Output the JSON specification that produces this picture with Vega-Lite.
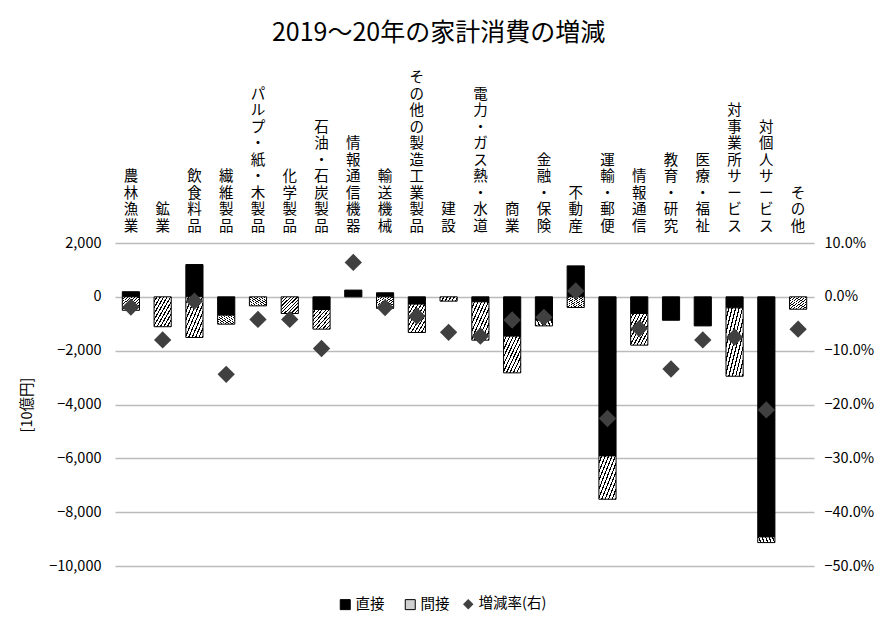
{
  "$schema": "https://vega.github.io/schema/vega-lite/v6.json",
  "width": 699,
  "height": 323,
  "padding": {"left": 19, "right": 5, "top": 20, "bottom": 5},
  "background": "white",
  "config": {
    "font": "Noto Sans CJK JP",
    "view": {"stroke": null}
  },
  "title": {
    "text": "2019～20年の家計消費の増減",
    "fontSize": 25,
    "fontWeight": "normal",
    "color": "black",
    "offset": 24,
    "dx": -26
  },
  "data": {
    "values": [
      {"cat": "農林漁業", "直接": 190, "間接": -500, "増減率(右)": -0.019},
      {"cat": "鉱業", "直接": 0, "間接": -1110, "増減率(右)": -0.080},
      {"cat": "飲食料品", "直接": 1200, "間接": -1510, "増減率(右)": -0.008},
      {"cat": "繊維製品", "直接": -680, "間接": -335, "増減率(右)": -0.144},
      {"cat": "パルプ・紙・木製品", "直接": 0, "間接": -335, "増減率(右)": -0.042},
      {"cat": "化学製品", "直接": 0, "間接": -620, "増減率(右)": -0.042},
      {"cat": "石油・石炭製品", "直接": -470, "間接": -730, "増減率(右)": -0.096},
      {"cat": "情報通信機器", "直接": 250, "間接": 0, "増減率(右)": 0.064},
      {"cat": "輸送機械", "直接": 150, "間接": -430, "増減率(右)": -0.020},
      {"cat": "その他の製造工業製品", "直接": -270, "間接": -1055, "増減率(右)": -0.036},
      {"cat": "建設", "直接": 0, "間接": -160, "増減率(右)": -0.066},
      {"cat": "電力・ガス熱・水道", "直接": -185, "間接": -1425, "増減率(右)": -0.073},
      {"cat": "商業", "直接": -1460, "間接": -1365, "増減率(右)": -0.043},
      {"cat": "金融・保険", "直接": -870, "間接": -210, "増減率(右)": -0.038},
      {"cat": "不動産", "直接": 1150, "間接": -395, "増減率(右)": 0.011},
      {"cat": "運輸・郵便", "直接": -5910, "間接": -1610, "増減率(右)": -0.226},
      {"cat": "情報通信", "直接": -620, "間接": -1175, "増減率(右)": -0.059},
      {"cat": "教育・研究", "直接": -870, "間接": 0, "増減率(右)": -0.134},
      {"cat": "医療・福祉", "直接": -1080, "間接": 0, "増減率(右)": -0.080},
      {"cat": "対事業所サービス", "直接": -410, "間接": -2540, "増減率(右)": -0.075},
      {"cat": "対個人サービス", "直接": -8920, "間接": -210, "増減率(右)": -0.210},
      {"cat": "その他", "直接": 0, "間接": -460, "増減率(右)": -0.060}
    ]
  },
  "encoding": {
    "x": {
      "field": "cat",
      "type": "nominal",
      "sort": null,
      "scale": {"paddingInner": 0.46, "paddingOuter": 0.23},
      "axis": {
        "orient": "top",
        "title": null,
        "labelAngle": 0,
        "labelExpr": "split(datum.label, '')",
        "labelFontSize": 14.5,
        "labelLineHeight": 16.5,
        "labelColor": "black",
        "labelPadding": {"expr": "10 + (length(datum.label) - 1) * 16.5"},
        "labelOverlap": false,
        "labelLimit": 0,
        "ticks": false,
        "domain": false,
        "grid": false
      }
    }
  },
  "layer": [
    {
      "mark": {"type": "bar", "stroke": "black", "strokeWidth": 1},
      "transform": [
        {"fold": ["直接", "間接"], "as": ["key", "value"]},
        {"filter": "datum.value != 0"}
      ],
      "encoding": {
        "y": {
          "field": "value",
          "type": "quantitative",
          "stack": "zero",
          "scale": {"domain": [-10000, 2000], "nice": false, "zero": false},
          "axis": {
            "title": "[10億円]",
            "titleFontSize": 14.5,
            "titleFontWeight": "normal",
            "titleColor": "black",
            "titlePadding": 14,
            "values": [-10000, -8000, -6000, -4000, -2000, 0, 2000],
            "format": ",.0f",
            "labelFontSize": 14.5,
            "labelColor": "black",
            "labelPadding": 14,
            "ticks": false,
            "domain": false,
            "grid": true,
            "gridColor": "#bbbbbb",
            "gridWidth": 1.5
          }
        },
        "color": {
          "field": "key",
          "type": "nominal",
          "condition": {
            "test": "datum.key === '間接'",
            "value": {
              "gradient": "linear", "x1": 0, "y1": 0, "x2": 1, "y2": 1,
              "stops": [
                {"offset": 0, "color": "white"},
                {"offset": 0.065, "color": "white"}, {"offset": 0.065, "color": "black"}, {"offset": 0.1, "color": "black"}, {"offset": 0.1, "color": "white"},
                {"offset": 0.165, "color": "white"}, {"offset": 0.165, "color": "black"}, {"offset": 0.2, "color": "black"}, {"offset": 0.2, "color": "white"},
                {"offset": 0.265, "color": "white"}, {"offset": 0.265, "color": "black"}, {"offset": 0.3, "color": "black"}, {"offset": 0.3, "color": "white"},
                {"offset": 0.365, "color": "white"}, {"offset": 0.365, "color": "black"}, {"offset": 0.4, "color": "black"}, {"offset": 0.4, "color": "white"},
                {"offset": 0.465, "color": "white"}, {"offset": 0.465, "color": "black"}, {"offset": 0.5, "color": "black"}, {"offset": 0.5, "color": "white"},
                {"offset": 0.565, "color": "white"}, {"offset": 0.565, "color": "black"}, {"offset": 0.6, "color": "black"}, {"offset": 0.6, "color": "white"},
                {"offset": 0.665, "color": "white"}, {"offset": 0.665, "color": "black"}, {"offset": 0.7, "color": "black"}, {"offset": 0.7, "color": "white"},
                {"offset": 0.765, "color": "white"}, {"offset": 0.765, "color": "black"}, {"offset": 0.8, "color": "black"}, {"offset": 0.8, "color": "white"},
                {"offset": 0.865, "color": "white"}, {"offset": 0.865, "color": "black"}, {"offset": 0.9, "color": "black"}, {"offset": 0.9, "color": "white"},
                {"offset": 0.965, "color": "white"}, {"offset": 0.965, "color": "black"}, {"offset": 1, "color": "black"}
              ]
            }
          },
          "scale": {"domain": ["直接", "間接"], "range": ["black", "#d0d0d0"]},
          "legend": {
            "title": null,
            "orient": "none",
            "legendX": 223,
            "legendY": 354,
            "direction": "horizontal",
            "labelFontSize": 14.5,
            "labelColor": "black",
            "labelOffset": 3,
            "columnPadding": 18,
            "symbolSize": 100,
            "symbolType": "square",
            "symbolOpacity": 1,
            "symbolStrokeColor": "black",
            "symbolStrokeWidth": 1
          }
        },
        "order": {"field": "key", "sort": "ascending"}
      }
    },
    {
      "mark": {"type": "point", "filled": true, "size": 300, "opacity": 1, "color": "#404040"},
      "transform": [
        {"fold": ["増減率(右)"], "as": ["key", "rate"]}
      ],
      "encoding": {
        "y": {
          "field": "rate",
          "type": "quantitative",
          "scale": {"domain": [-0.5, 0.1], "nice": false, "zero": false},
          "axis": {
            "orient": "right",
            "title": null,
            "values": [-0.5, -0.4, -0.3, -0.2, -0.1, 0, 0.1],
            "format": ".1%",
            "labelFontSize": 14.5,
            "labelColor": "black",
            "labelPadding": 10,
            "ticks": false,
            "domain": false,
            "grid": false
          }
        },
        "shape": {
          "field": "key",
          "type": "nominal",
          "scale": {"domain": ["増減率(右)"], "range": ["diamond"]},
          "legend": {
            "title": null,
            "orient": "none",
            "legendX": 346,
            "legendY": 354,
            "direction": "horizontal",
            "labelFontSize": 14.5,
            "labelColor": "black",
            "labelOffset": 3,
            "symbolSize": 110,
            "symbolOpacity": 1,
            "symbolFillColor": "#333333",
            "symbolStrokeWidth": 0
          }
        }
      }
    }
  ],
  "resolve": {"scale": {"y": "independent"}}
}
